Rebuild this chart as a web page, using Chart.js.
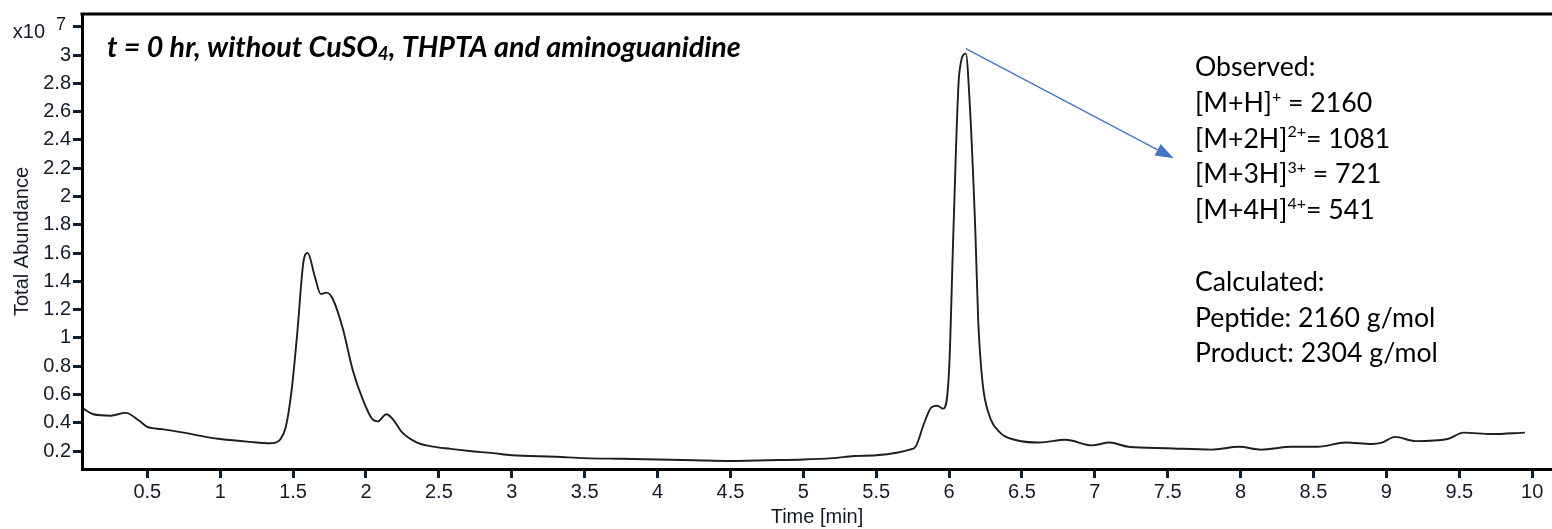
<!DOCTYPE html>
<html><head><meta charset="utf-8">
<script src="https://cdn.jsdelivr.net/npm/chart.js@4"></script>
<style>html,body{margin:0;padding:0;background:#fff;overflow:hidden}#wrap{width:1552px;height:529px;position:relative}</style>
</head><body><div id="wrap"><canvas id="c" width="1552" height="529"></canvas></div>
<script>
// Retention time (min)
const timeMin = [0.06,0.13,0.25,0.35,0.45,0.50,0.60,0.75,0.90,1.00,1.20,1.34,1.38,1.41,1.45,1.49,1.53,1.57,1.60,1.65,1.69,1.73,1.77,1.84,1.91,1.98,2.04,2.08,2.14,2.18,2.25,2.35,2.44,2.58,2.71,2.87,3.00,3.30,3.50,3.75,4.00,4.25,4.50,4.75,5.00,5.20,5.35,5.50,5.65,5.73,5.77,5.83,5.88,5.92,5.96,6.00,6.03,6.07,6.115,6.14,6.18,6.20,6.23,6.27,6.35,6.45,6.62,6.80,6.98,7.10,7.23,7.49,7.80,7.99,8.14,8.35,8.53,8.72,8.90,8.97,9.06,9.20,9.42,9.53,9.72,9.95];
// Total abundance (x10^7)
const abundance = [0.50,0.46,0.45,0.47,0.41,0.37,0.355,0.33,0.30,0.285,0.265,0.255,0.26,0.28,0.37,0.63,1.05,1.53,1.60,1.43,1.31,1.32,1.28,1.07,0.77,0.56,0.43,0.41,0.46,0.43,0.33,0.26,0.235,0.215,0.20,0.185,0.17,0.16,0.15,0.145,0.14,0.135,0.13,0.135,0.14,0.15,0.165,0.17,0.19,0.21,0.23,0.40,0.51,0.52,0.50,0.77,1.76,2.87,3.01,2.69,1.76,1.12,0.68,0.47,0.33,0.28,0.26,0.28,0.24,0.26,0.23,0.22,0.21,0.23,0.21,0.23,0.23,0.26,0.25,0.26,0.30,0.27,0.285,0.33,0.32,0.33];
const xTicks = [0.5,1,1.5,2,2.5,3,3.5,4,4.5,5,5.5,6,6.5,7,7.5,8,8.5,9,9.5,10];
const xLabels = ['0.5','1','1.5','2','2.5','3','3.5','4','4.5','5','5.5','6','6.5','7','7.5','8','8.5','9','9.5','10'];
const yTicks = [0.2,0.4,0.6,0.8,1,1.2,1.4,1.6,1.8,2,2.2,2.4,2.6,2.8,3,3.2];
const yLabels = ['0.2','0.4','0.6','0.8','1','1.2','1.4','1.6','1.8','2','2.2','2.4','2.6','2.8','3',''];
const titleText = ['t = 0 hr, without CuSO', '4', ', THPTA and aminoguanidine'];
const noteLines = [
  [['Observed:']],
  [['[M+H]'],['+','sup'],[' = 2160']],
  [['[M+2H]'],['2+','sup'],['= 1081']],
  [['[M+3H]'],['3+','sup'],[' = 721']],
  [['[M+4H]'],['4+','sup'],['= 541']],
  [],
  [['Calculated:']],
  [['Peptide: 2160 g/mol']],
  [['Product: 2304 g/mol']]
];
// arrow from peak apex to annotation (data coordinates)
const arrowFrom = {x: 6.115, y: 3.045};
const arrowTo = {x: 7.54, y: 2.27};

const AX = '#151a28';
const ext = {
  id: 'ext',
  afterDraw(chart) {
    const ctx = chart.ctx, a = chart.chartArea, xs = chart.scales.x, ys = chart.scales.y;
    ctx.save();
    // top frame line
    ctx.strokeStyle = '#000'; ctx.lineWidth = 3;
    ctx.beginPath(); ctx.moveTo(a.left - 1.5, a.top); ctx.lineTo(a.right, a.top); ctx.stroke();
    // exponent label at 3.2 tick
    const yE = ys.getPixelForValue(3.2);
    ctx.fillStyle = AX; ctx.textBaseline = 'middle';
    ctx.font = '20px "Liberation Sans"'; ctx.textAlign = 'right';
    ctx.fillText('x10', 45, yE + 6);
    ctx.font = '18px "Liberation Sans"'; ctx.textAlign = 'left';
    ctx.fillText('7', 56, yE - 2);
    // title
    const fam = 'Lato';
    ctx.font = 'italic bold 26px ' + fam;
    const wFull = ctx.measureText(titleText.join('')).width;
    const ts = 26 * 640 / wFull;
    let x = 107, base = 57;
    ctx.fillStyle = '#000'; ctx.textBaseline = 'alphabetic'; ctx.textAlign = 'left';
    ctx.font = `italic bold ${ts}px ${fam}`; ctx.fillText(titleText[0], x, base); x += ctx.measureText(titleText[0]).width;
    ctx.font = `italic bold ${ts*0.65}px ${fam}`; ctx.fillText(titleText[1], x, base + ts*0.12); x += ctx.measureText(titleText[1]).width;
    ctx.font = `italic bold ${ts}px ${fam}`; ctx.fillText(titleText[2], x, base);
    // annotation
    ctx.font = '28px ' + fam;
    const ns = 28 * 243 / ctx.measureText('Product: 2304 g/mol').width;
    const lh = 35.8;
    noteLines.forEach((segs, i) => {
      let px = 1195; const by = 76 + i * lh;
      segs.forEach(s => {
        if (s[1] === 'sup') {
          ctx.font = `${ns*0.6}px ${fam}`; ctx.fillText(s[0], px, by - ns*0.38);
        } else {
          ctx.font = `${ns}px ${fam}`; ctx.fillText(s[0], px, by);
        }
        px += ctx.measureText(s[0]).width;
      });
    });
    // arrow
    const x0 = xs.getPixelForValue(arrowFrom.x), y0 = ys.getPixelForValue(arrowFrom.y);
    const x1 = xs.getPixelForValue(arrowTo.x), y1 = ys.getPixelForValue(arrowTo.y);
    const ang = Math.atan2(y1 - y0, x1 - x0), hl = 18, hw = 6.5;
    const bx = x1 - hl * Math.cos(ang), by2 = y1 - hl * Math.sin(ang);
    ctx.strokeStyle = '#4472c4'; ctx.fillStyle = '#4472c4'; ctx.lineWidth = 1.2;
    ctx.beginPath(); ctx.moveTo(x0, y0); ctx.lineTo(bx, by2); ctx.stroke();
    ctx.beginPath(); ctx.moveTo(x1, y1);
    ctx.lineTo(bx + hw * Math.sin(ang), by2 - hw * Math.cos(ang));
    ctx.lineTo(bx - hw * Math.sin(ang), by2 + hw * Math.cos(ang));
    ctx.closePath(); ctx.fill();
    ctx.restore();
  }
};

const axisFont = {family: '"Liberation Sans", Arial, sans-serif', size: 20};
new Chart(document.getElementById('c'), {
  type: 'line',
  data: { datasets: [{
    data: timeMin.map((t, i) => ({x: t, y: abundance[i]})),
    borderColor: '#1e1e1e', borderWidth: 1.9, pointRadius: 0,
    cubicInterpolationMode: 'monotone', fill: false
  }]},
  options: {
    responsive: false, animation: false, devicePixelRatio: 1,
    layout: {padding: {top: 12, right: 0, bottom: 0, left: 0}},
    plugins: {legend: {display: false}, tooltip: {enabled: false}},
    scales: {
      x: {
        type: 'linear', min: 0.052, max: 10.136,
        afterBuildTicks: s => { s.ticks = xTicks.map(v => ({value: v})); },
        afterFit: s => { s.height = 60; },
        border: {color: '#000', width: 3},
        grid: {drawOnChartArea: false, tickLength: 9, tickWidth: 3, tickColor: '#0f1d30'},
        ticks: {padding: 2, font: axisFont, color: AX, autoSkip: false, maxRotation: 0,
                callback: (v, i) => xLabels[i]},
        title: {display: true, text: 'Time [min]', color: AX,
                font: {family: '"Liberation Sans", Arial, sans-serif', size: 20}, padding: {top: 0, bottom: 0}}
      },
      y: {
        type: 'linear', min: 0.073, max: 3.29,
        afterBuildTicks: s => { s.ticks = yTicks.map(v => ({value: v})); },
        afterFit: s => { s.width = 82; },
        border: {color: '#000', width: 3},
        grid: {drawOnChartArea: false, tickLength: 9, tickWidth: 3, tickColor: '#0f1d30'},
        ticks: {padding: 2, font: axisFont, color: AX, autoSkip: false,
                callback: (v, i) => yLabels[i]},
        title: {display: true, text: 'Total Abundance', color: AX,
                font: {family: '"Liberation Sans", Arial, sans-serif', size: 20}, padding: {top: 10, bottom: 0}}
      }
    }
  },
  plugins: [ext]
});
</script></body></html>
